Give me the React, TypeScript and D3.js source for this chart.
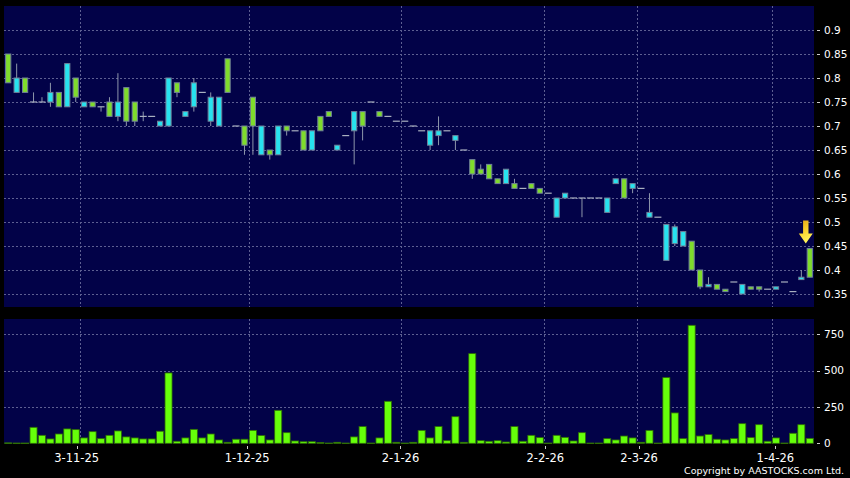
import React from 'react';
import * as d3 from 'd3';

// ---- data ----
const opens = [0.79,0.80,0.77,0.75,0.75,0.77,0.74,0.83,0.76,0.75,0.74,0.74,0.72,0.75,0.71,0.71,0.72,0.72,0.71,0.80,0.77,0.73,0.79,0.77,0.76,0.76,0.77,0.70,0.66,0.70,0.70,0.64,0.70,0.69,0.69,0.65,0.69,0.69,0.72,0.66,0.68,0.73,0.70,0.75,0.72,0.72,0.71,0.71,0.70,0.69,0.69,0.69,0.69,0.68,0.65,0.60,0.60,0.59,0.58,0.61,0.57,0.57,0.57,0.56,0.56,0.55,0.56,0.55,0.55,0.55,0.55,0.55,0.59,0.55,0.58,0.57,0.52,0.51,0.495,0.49,0.48,0.40,0.365,0.37,0.36,0.355,0.375,0.37,0.36,0.36,0.36,0.365,0.375,0.355,0.385,0.385];
const highs = [0.85,0.83,0.80,0.77,0.76,0.79,0.77,0.83,0.80,0.75,0.75,0.74,0.76,0.81,0.78,0.75,0.73,0.72,0.71,0.80,0.79,0.73,0.80,0.77,0.77,0.76,0.84,0.70,0.70,0.76,0.70,0.65,0.70,0.70,0.69,0.69,0.69,0.72,0.73,0.66,0.68,0.73,0.73,0.75,0.73,0.72,0.71,0.71,0.70,0.69,0.69,0.72,0.69,0.68,0.65,0.63,0.62,0.62,0.59,0.61,0.59,0.57,0.58,0.57,0.56,0.55,0.56,0.55,0.55,0.55,0.55,0.55,0.59,0.59,0.58,0.57,0.56,0.51,0.495,0.495,0.48,0.46,0.40,0.385,0.37,0.36,0.375,0.37,0.365,0.365,0.36,0.365,0.375,0.355,0.40,0.445];
const lows = [0.79,0.77,0.77,0.75,0.75,0.74,0.74,0.74,0.75,0.74,0.74,0.73,0.72,0.71,0.70,0.70,0.71,0.72,0.70,0.70,0.76,0.72,0.73,0.77,0.70,0.70,0.77,0.70,0.64,0.64,0.64,0.63,0.64,0.68,0.69,0.65,0.65,0.69,0.72,0.65,0.68,0.62,0.67,0.75,0.72,0.72,0.71,0.71,0.70,0.69,0.65,0.66,0.69,0.65,0.65,0.59,0.60,0.59,0.58,0.58,0.57,0.57,0.57,0.56,0.56,0.51,0.55,0.55,0.51,0.55,0.55,0.52,0.58,0.55,0.56,0.57,0.51,0.51,0.42,0.45,0.45,0.40,0.36,0.365,0.36,0.355,0.375,0.35,0.36,0.355,0.36,0.36,0.375,0.355,0.38,0.385];
const closes = [0.85,0.77,0.80,0.75,0.75,0.75,0.77,0.74,0.80,0.74,0.75,0.74,0.75,0.72,0.78,0.75,0.72,0.72,0.70,0.70,0.79,0.72,0.74,0.77,0.71,0.70,0.84,0.70,0.70,0.76,0.64,0.65,0.64,0.70,0.69,0.69,0.65,0.72,0.73,0.65,0.68,0.69,0.73,0.75,0.73,0.72,0.71,0.71,0.70,0.69,0.66,0.68,0.69,0.67,0.65,0.63,0.61,0.62,0.59,0.58,0.58,0.57,0.58,0.57,0.56,0.51,0.55,0.55,0.55,0.55,0.55,0.52,0.58,0.59,0.57,0.57,0.51,0.51,0.42,0.455,0.45,0.46,0.40,0.365,0.37,0.36,0.375,0.35,0.365,0.365,0.36,0.36,0.375,0.355,0.38,0.445];
const volumes = [3,2,2,110,55,30,64,99,94,37,80,32,55,85,44,37,30,30,83,484,14,37,96,37,64,23,7,28,28,89,53,23,227,73,16,11,11,5,2,7,2,44,115,2,37,289,7,2,7,89,37,115,18,183,7,617,18,14,18,9,115,14,55,39,2,55,41,16,73,2,2,32,23,50,37,7,89,2,452,209,32,812,50,60,28,23,32,135,39,128,14,37,2,69,128,34];

const priceTicks = [0.35,0.4,0.45,0.5,0.55,0.6,0.65,0.7,0.75,0.8,0.85,0.9];
const priceTickLabels = ['0.35','0.4','0.45','0.5','0.55','0.6','0.65','0.7','0.75','0.8','0.85','0.9'];
const volumeTicks = [0,250,500,750];
const volumeTickLabels = ['0','250','500','750'];
const dateLabels = ['3-11-25','1-12-25','2-1-26','2-2-26','2-3-26','1-4-26'];
const dateIndex = [9,29,47,64,75,91];

const W = 850, H = 478;
const PANEL_L = 4, PANEL_R = 814;
const P_TOP = 6, P_BOT = 307;
const V_TOP = 319, V_BOT = 443.3;

const BG = '#020248';
const GRID = '#5d5f92';
const UP = '#7fdc2c';
const DOWN = '#27e2ef';
const EDGE = '#6f7f98';
const WICK = '#8e97ab';
const FONT = 'DejaVu Sans, sans-serif';

export default function App() {
  const idx = d3.range(closes.length);
  const x = d3.scaleBand<number>().domain(idx).range([PANEL_L, PANEL_R]).padding(0);
  const xl = d3.scaleBand<number>().domain(idx).range([0, 818]).padding(0);
  const bw = x.bandwidth();
  const y = d3.scaleLinear().domain([0.35, 0.9]).range([294, 30]);
  const yv = d3.scaleLinear().domain([0, 750]).range([V_BOT, 334.3]);

  const cx = (i: number) => (x(i) as number) + bw / 2;
  const arrowX = cx(closes.length - 1) - 4;
  const arrowTip = y(highs[highs.length - 1]) - 5;

  return (
    <svg width={W} height={H} style={{ position: 'fixed', left: 0, top: 0, background: '#000' }}
      fontFamily={FONT}>
      <defs>
        <linearGradient id="arrowGrad" x1="0" y1="0" x2="0.35" y2="1">
          <stop offset="0" stopColor="#e3a514" />
          <stop offset="0.5" stopColor="#f8cf2c" />
          <stop offset="1" stopColor="#fff45c" />
        </linearGradient>
      </defs>
      <rect x={0} y={0} width={W} height={H} fill="#000" />
      {/* panels */}
      <rect x={PANEL_L} y={P_TOP} width={PANEL_R - PANEL_L} height={P_BOT - P_TOP} fill={BG} />
      <rect x={PANEL_L} y={V_TOP} width={PANEL_R - PANEL_L} height={V_BOT - V_TOP} fill={BG} />

      {/* horizontal grid - price */}
      {priceTicks.map((p, k) => (
        <g key={'pg' + k}>
          <line x1={PANEL_L} x2={PANEL_R} y1={Math.round(y(p)) + 0.5} y2={Math.round(y(p)) + 0.5}
            stroke={GRID} strokeDasharray="2,2" />
          <line x1={817} x2={820} y1={Math.round(y(p)) + 0.5} y2={Math.round(y(p)) + 0.5} stroke="#ccc" />
          <text x={824} y={y(p)} dy="0.36em" fill="#fff" fontSize={10.5}>{priceTickLabels[k]}</text>
        </g>
      ))}
      {/* horizontal grid - volume */}
      {volumeTicks.map((v, k) => (
        <g key={'vg' + k}>
          {v > 0 && (
            <line x1={PANEL_L} x2={PANEL_R} y1={Math.round(yv(v)) + 0.5} y2={Math.round(yv(v)) + 0.5}
              stroke={GRID} strokeDasharray="2,2" />
          )}
          <line x1={817} x2={820} y1={Math.round(yv(v)) + 0.5} y2={Math.round(yv(v)) + 0.5} stroke="#ccc" />
          <text x={824} y={yv(v)} dy="0.36em" fill="#fff" fontSize={10.5}>{volumeTickLabels[k]}</text>
        </g>
      ))}
      {/* vertical grid */}
      {dateIndex.map((di, k) => {
        const gx = Math.round(x(di) as number) + 0.5;
        const lx = xl(di) as number;
        return (
          <g key={'dg' + k}>
            <line x1={gx} x2={gx} y1={P_TOP} y2={P_BOT} stroke={GRID} strokeDasharray="2,2" />
            <line x1={gx} x2={gx} y1={V_TOP} y2={V_BOT} stroke={GRID} strokeDasharray="2,2" />
            <line x1={Math.round(lx) + 0.5} x2={Math.round(lx) + 0.5} y1={446} y2={449} stroke="#ccc" />
            <text x={lx} y={462} textAnchor="middle" fill="#fff" fontSize={11.5}>{dateLabels[k]}</text>
          </g>
        );
      })}

      {/* candles */}
      {idx.map((i) => {
        const o = opens[i], c = closes[i], h = highs[i], l = lows[i];
        const X = cx(i);
        const yo = y(o), yc = y(c);
        const top = Math.min(yo, yc), bot = Math.max(yo, yc);
        const doji = Math.abs(bot - top) < 0.5;
        return (
          <g key={'c' + i}>
            {h > l && (
              <line x1={X} x2={X} y1={y(h)} y2={y(l)} stroke={WICK} strokeWidth={1} />
            )}
            {doji ? (
              <line x1={X - 3.5} x2={X + 3.5} y1={yo} y2={yo} stroke="#a9b0c0" strokeWidth={1.2} />
            ) : (
              <rect x={X - 2.6} y={top} width={5.2} height={bot - top}
                fill={c > o ? UP : DOWN} stroke={EDGE} strokeWidth={1} />
            )}
          </g>
        );
      })}

      {/* volume bars */}
      {idx.map((i) => {
        const yt = yv(volumes[i]);
        return (
          <rect key={'v' + i} x={(x(i) as number) + 0.7} y={yt} width={bw - 1.4}
            height={Math.max(V_BOT - yt, 0.6)} fill="#66ff0a" stroke="#2f6d05" strokeWidth={0.8} />
        );
      })}

      {/* arrow marker on last bar */}
      <path
        d={`M${arrowX - 2.7},${arrowTip - 23} L${arrowX + 2.7},${arrowTip - 23} L${arrowX + 2.7},${arrowTip - 10}
            L${arrowX + 7},${arrowTip - 10} L${arrowX},${arrowTip} L${arrowX - 7},${arrowTip - 10}
            L${arrowX - 2.7},${arrowTip - 10} Z`}
        fill="url(#arrowGrad)" />

      <text x={844} y={474} textAnchor="end" fill="#fff" fontSize={9.5}>Copyright by AASTOCKS.com Ltd.</text>
    </svg>
  );
}
